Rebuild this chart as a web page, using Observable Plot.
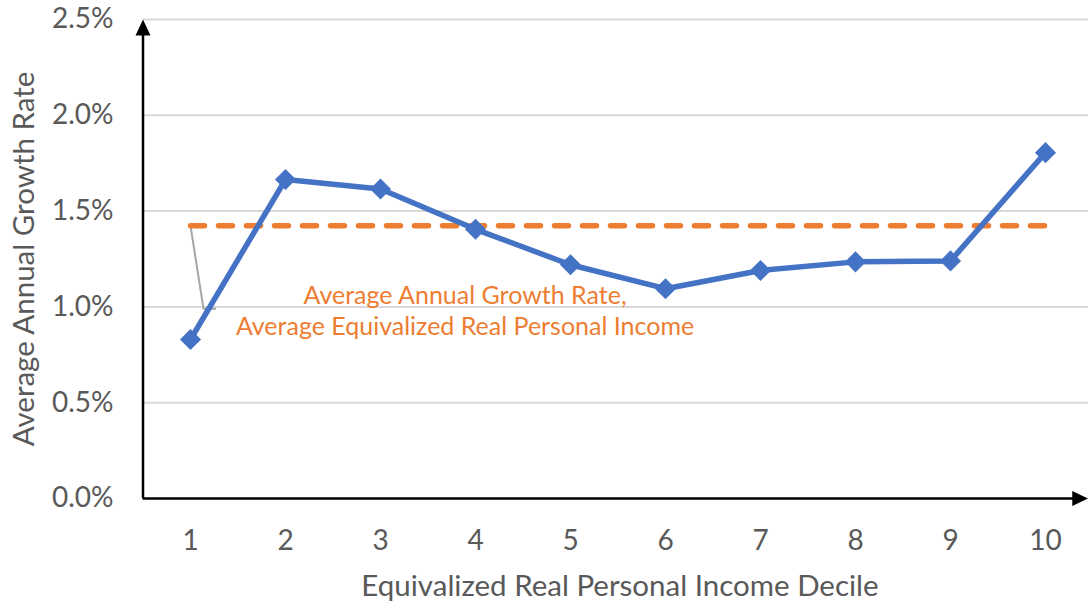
<!DOCTYPE html>
<html>
<head>
<meta charset="utf-8">
<script src="https://cdn.jsdelivr.net/npm/d3@7"></script>
<script src="https://cdn.jsdelivr.net/npm/@observablehq/plot@0.6"></script>
<style>
  html, body { margin: 0; padding: 0; background: #fff; }
  #chart svg { display: block; }
</style>
</head>
<body>
<div id="chart"></div>
<script>
// ---- data ----
const deciles = [1, 2, 3, 4, 5, 6, 7, 8, 9, 10];
const growthRates = [0.83, 1.665, 1.615, 1.405, 1.22, 1.095, 1.19, 1.235, 1.24, 1.805]; // percent
const averageGrowth = 1.423; // percent
const yTicks = [0, 0.5, 1.0, 1.5, 2.0, 2.5];
const xLabel = "Equivalized Real Personal Income Decile";
const yLabel = "Average Annual Growth Rate";
const annotationText = "Average Annual Growth Rate,\nAverage Equivalized Real Personal Income";

const rows = deciles.map((d, i) => ({decile: d, rate: growthRates[i]}));
const avgRows = [{decile: deciles[0], rate: averageGrowth}, {decile: deciles[deciles.length - 1], rate: averageGrowth}];

// annotation placement (data units)
const annX = 3.89, annY = 0.985;
const leader = [
  {decile: deciles[0], rate: averageGrowth},
  {decile: 1.137, rate: 0.99},
  {decile: 1.26, rate: 0.99}
];

const FONT = "Lato, 'Open Sans', sans-serif";
const GREY = "#595959";
const BLUE = "#4472C4";
const ORANGE = "#ED7D31";

const triUp = {draw(ctx) { ctx.moveTo(0, 0); ctx.lineTo(-7.5, 16); ctx.lineTo(7.5, 16); ctx.closePath(); }};
const triRight = {draw(ctx) { ctx.moveTo(0, 0); ctx.lineTo(-16, -7.5); ctx.lineTo(-16, 7.5); ctx.closePath(); }};

const xMin = 0.5, xMax = 10.45, yMax = yTicks[yTicks.length - 1];

const chart = Plot.plot({
  width: 1088,
  height: 606,
  marginLeft: 143,
  marginRight: 0,
  marginTop: 19,
  marginBottom: 108,
  style: {fontFamily: FONT, fontSize: "28px", color: GREY, background: "#fff", overflow: "visible"},
  x: {type: "linear", domain: [0.5, 10.5], range: [142.5, 1092.5]},
  y: {domain: [0, yMax]},
  marks: [
    Plot.ruleY(yTicks.filter(t => t > 0), {stroke: "#d9d9d9", strokeWidth: 2}),
    Plot.axisY({ticks: yTicks, tickSize: 0, tickPadding: 30, tickFormat: d => d.toFixed(1) + "%", label: null, fill: GREY, fontSize: 28}),
    Plot.axisX({ticks: deciles, tickSize: 0, tickPadding: 32, tickFormat: d => String(d), label: null, fill: GREY, fontSize: 28}),
    Plot.text([yLabel], {frameAnchor: "left", dx: -119, rotate: -90, textAnchor: "middle", fill: GREY, fontSize: 29.5}),
    Plot.text([xLabel], {frameAnchor: "bottom", dy: 97, dx: 4, textAnchor: "middle", fill: GREY, fontSize: 29.5}),
    // axes with arrows
    Plot.ruleY([0], {x1: xMin, x2: xMax - 0.1, stroke: "#000", strokeWidth: 2.5}),
    Plot.ruleX([xMin], {y1: 0, y2: yMax - 0.05, stroke: "#000", strokeWidth: 2.5}),
    Plot.dot([{x: xMin, y: yMax}], {x: "x", y: "y", symbol: triUp, fill: "#000", stroke: null}),
    Plot.dot([{x: xMax, y: 0}], {x: "x", y: "y", symbol: triRight, fill: "#000", stroke: null}),
    // leader line
    Plot.line(leader, {x: "decile", y: "rate", stroke: "#a6a6a6", strokeWidth: 2}),
    // average dashed line
    Plot.line(avgRows, {x: "decile", y: "rate", stroke: ORANGE, strokeWidth: 5.5, strokeDasharray: "14,14", strokeLinecap: "round"}),
    // series
    Plot.line(rows, {x: "decile", y: "rate", stroke: BLUE, strokeWidth: 5.5, strokeLinejoin: "round"}),
    Plot.dot(rows, {x: "decile", y: "rate", symbol: "diamond2", r: 9.5, fill: BLUE, stroke: null}),
    // annotation
    Plot.text([annotationText], {x: () => annX, y: () => annY, fill: ORANGE, fontSize: 25, lineHeight: 1.24, textAnchor: "middle"})
  ]
});
document.getElementById("chart").appendChild(chart);
</script>
</body>
</html>
